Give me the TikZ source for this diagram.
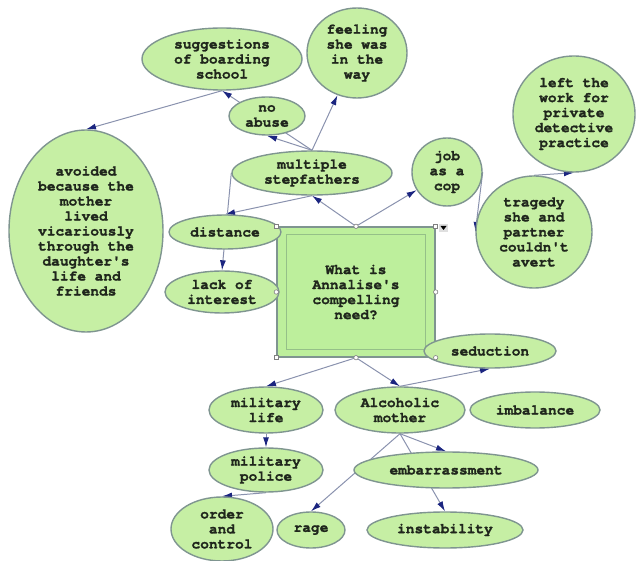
\documentclass[tikz,border=0pt]{standalone}
\usepackage{fontspec}
\newfontfamily\mapfont[BoldFeatures={FakeBold=1.5}]{TeX Gyre Cursor}
\usetikzlibrary{arrows.meta, shapes.geometric, backgrounds}
\definecolor{leaf}{HTML}{C6EFA4}
\definecolor{boxfill}{HTML}{BDEF9C}
\definecolor{rim}{HTML}{7F9590}
\definecolor{innerrim}{HTML}{95C088}
\definecolor{wire}{HTML}{8A92AE}
\definecolor{tipblue}{HTML}{1B2580}
\definecolor{ink}{HTML}{1F261C}

\begin{document}
\begin{tikzpicture}[x=1pt, y=-1pt,
  bubble/.style={ellipse, draw=rim, line width=1.4pt, fill=leaf, inner sep=0pt,
    font=\mapfont\bfseries\fontsize{14.5}{15}\selectfont, text=ink, align=center},
  link/.style={draw=wire, line width=1pt,
    -{Latex[length=10pt,width=6pt,color=tipblue,fill=tipblue]}},
  handle/.style={draw=gray, fill=white, line width=0.6pt}]
  \useasboundingbox (0,0) rectangle (643,561);

  % central question
  \node[draw=rim, line width=1.4pt, fill=boxfill,
        minimum width=158pt, minimum height=130pt,
        font=\mapfont\bfseries\fontsize{14.5}{15}\selectfont, text=ink,
        align=center] (need) at (356,292)
        {What is\\Annalise's\\compelling\\need?};
  \draw[innerrim, line width=1pt]
        ([shift={(10,8)}]need.north west) rectangle ([shift={(-10,-8)}]need.south east);

  % upper left
  \node[bubble, minimum width=160pt, minimum height=62pt] (sugg) at (222,59)
        {suggestions\\of boarding\\school};
  \node[bubble, minimum width=100pt, minimum height=90pt] (feeling) at (357,53)
        {feeling\\she was\\in the\\way};
  \node[bubble, minimum width=76pt, minimum height=38pt] (noabuse) at (267,116)
        {no\\abuse};
  \node[bubble, minimum width=160pt, minimum height=44pt] (stepf) at (312,173)
        {multiple\\stepfathers};
  \node[bubble, minimum width=154pt, minimum height=202pt] (avoided) at (86,231)
        {avoided\\because the\\mother\\lived\\vicariously\\through the\\daughter's\\life and\\friends};
  \node[bubble, minimum width=112pt, minimum height=34pt] (distance) at (225,232)
        {distance};
  \node[bubble, minimum width=114pt, minimum height=42pt] (lack) at (222,292)
        {lack of\\interest};

  % upper right
  \node[bubble, minimum width=70pt, minimum height=68pt] (job) at (447,172)
        {job\\as a\\cop};
  \node[bubble, minimum width=122pt, minimum height=116pt] (leftwork) at (574,114)
        {left the\\work for\\private\\detective\\practice};
  \node[bubble, minimum width=116pt, minimum height=112pt] (tragedy) at (534,232)
        {tragedy\\she and\\partner\\couldn't\\avert};

  % lower part
  \node[bubble, minimum width=132pt, minimum height=34pt] (seduction) at (490,351)
        {seduction};
  \node[bubble, minimum width=130pt, minimum height=46pt] (alc) at (400,410)
        {Alcoholic\\mother};
  \node[bubble, minimum width=130pt, minimum height=36pt] (imbalance) at (535,410)
        {imbalance};
  \node[bubble, minimum width=184pt, minimum height=36pt] (embarr) at (446,470)
        {embarrassment};
  \node[bubble, minimum width=156pt, minimum height=36pt] (instab) at (445,530)
        {instability};
  \node[bubble, minimum width=68pt, minimum height=36pt] (rage) at (311,530)
        {rage};
  \node[bubble, minimum width=114pt, minimum height=46pt] (mlife) at (266,410)
        {military\\life};
  \node[bubble, minimum width=114pt, minimum height=44pt] (police) at (266,470)
        {military\\police};
  \node[bubble, minimum width=102pt, minimum height=64pt] (order) at (222,529)
        {order\\and\\control};

  % selection handles of the box
  \foreach \a in {north, south, east, west, south east}
    \draw[handle] (need.\a) circle (2.2pt);
  \foreach \a in {north west, north east, south west}
    \draw[handle] ([shift={(-2,-2)}]need.\a) rectangle ([shift={(2,2)}]need.\a);
  \fill[gray!25] (439,224) rectangle (448,232);
  \fill[black] (440.5,226) -- (446.5,226) -- (443.5,230) -- cycle;

  \begin{scope}[on background layer]
    \draw[link] (need.north) -- (stepf.south);
    \draw[link] (need.north) -- (job);
    \draw[link] (stepf.north) -- (noabuse.south);
    \draw[link] (stepf.north) -- (feeling);
    \draw[link] (stepf.north) -- (sugg.south);
    \draw[link] (sugg.south) -- (avoided.north);
    \draw[link] (stepf.south) -- (distance.north);
    \draw[link] (stepf.west) -- (lack.north);
    \draw[link] (job.east) -- (tragedy.west);
    \draw[link] (tragedy.north) -- (leftwork.south);
    \draw[link] (need.south) -- (mlife.north);
    \draw[link] (need.south) -- (alc.north);
    \draw[link] (alc.north) -- (seduction.south);
    \draw[link] (mlife.south) -- (police.north);
    \draw[link] (police.south) -- (order.north);
    \draw[link] (alc.south) -- (embarr.north);
    \draw[link] (alc.south) -- (instab.north);
    \draw[link] (alc.south) -- (rage.north);
  \end{scope}
\end{tikzpicture}
\end{document}
